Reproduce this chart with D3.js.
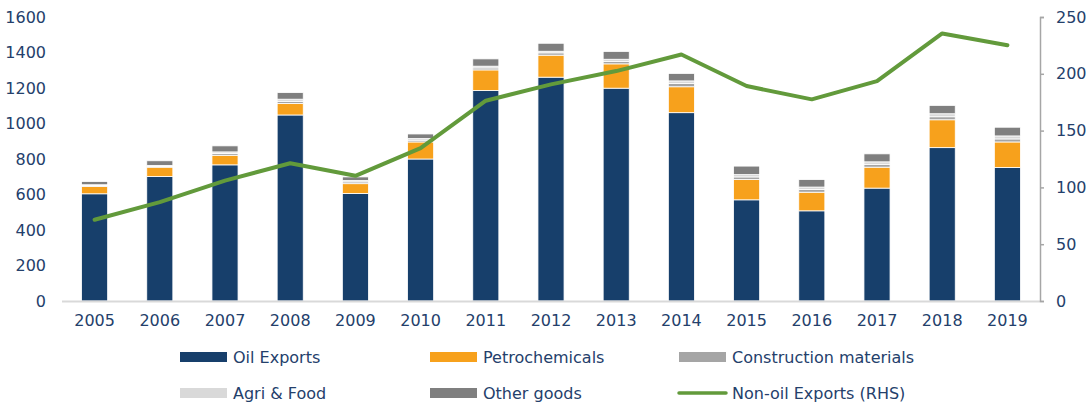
<!DOCTYPE html>
<html>
<head>
<meta charset="utf-8">
<script src="https://cdn.jsdelivr.net/npm/d3@7/dist/d3.min.js"></script>
<style>
  html, body { margin: 0; padding: 0; background: #fff; }
  svg text { font-family: "DejaVu Sans", sans-serif; fill: #24406b; }
</style>
</head>
<body>
<svg id="chart" width="1087" height="406"></svg>
<script>
const years = ["2005","2006","2007","2008","2009","2010","2011","2012","2013","2014","2015","2016","2017","2018","2019"];
const oilExports    = [604, 701, 767, 1048, 606, 800, 1186, 1261, 1199, 1061, 570, 508, 636, 864, 752];
const petrochem     = [41, 53, 54, 65, 55, 96, 116, 124, 137, 146, 114, 105, 118, 157, 144];
const construction  = [5, 5, 10, 12, 10, 10, 11, 13, 14, 18, 15, 15, 16, 17, 17];
const agriFood      = [5, 5, 9, 12, 8, 9, 10, 9, 12, 15, 13, 14, 14, 17, 17];
const otherGoods    = [18, 26, 34, 37, 20, 26, 41, 45, 44, 42, 48, 42, 45, 47, 49];
const nonOilRHS     = [71.5, 87, 106, 121.3, 110.2, 134.5, 176.3, 190.7, 202.4, 217, 189.2, 177.5, 193.6, 235.5, 225.2];
const leftTicks  = [0, 200, 400, 600, 800, 1000, 1200, 1400, 1600];
const rightTicks = [0, 50, 100, 150, 200, 250];
const seriesNames = ["Oil Exports", "Petrochemicals", "Construction materials", "Agri & Food", "Other goods"];
const lineName = "Non-oil Exports (RHS)";

const colors = {
  "Oil Exports": "#173f6b",
  "Petrochemicals": "#f7a11c",
  "Construction materials": "#a5a5a5",
  "Agri & Food": "#d9d9d9",
  "Other goods": "#7f7f7f"
};
const lineColor = "#629a3b";

const table = years.map((y, i) => ({
  year: y,
  "Oil Exports": oilExports[i],
  "Petrochemicals": petrochem[i],
  "Construction materials": construction[i],
  "Agri & Food": agriFood[i],
  "Other goods": otherGoods[i],
  rhs: nonOilRHS[i]
}));

const svg = d3.select("#chart");
const plotLeft = 62, plotRight = 1040, plotTop = 17, plotBottom = 301;

const x = d3.scaleBand().domain(years).range([plotLeft, plotRight]).paddingInner(0.6).paddingOuter(0.3);
const yL = d3.scaleLinear().domain([0, 1600]).range([plotBottom, plotTop]);
const yR = d3.scaleLinear().domain([0, 250]).range([plotBottom, plotTop]);

const stack = d3.stack().keys(seriesNames)(table);

// bars
svg.append("g").selectAll("g").data(stack).join("g")
  .attr("fill", d => colors[d.key])
  .selectAll("rect").data(d => d).join("rect")
  .attr("x", d => x(d.data.year))
  .attr("width", x.bandwidth())
  .attr("y", d => yL(d[1]))
  .attr("height", d => yL(d[0]) - yL(d[1]))
  .attr("stroke", "#fff")
  .attr("stroke-width", 0.8);

// bottom axis line
svg.append("line")
  .attr("x1", plotLeft).attr("x2", plotRight)
  .attr("y1", yL(0) + 0.5).attr("y2", yL(0) + 0.5)
  .attr("stroke", "#d9d9d9").attr("stroke-width", 2);

// left axis (labels only)
const leftAxis = d3.axisLeft(yL).tickValues(leftTicks).tickFormat(d3.format("d")).tickSize(0).tickPadding(0);
const gl = svg.append("g").attr("transform", "translate(46,0)").call(leftAxis);
gl.select(".domain").remove();
gl.selectAll("text").attr("font-size", 16).attr("fill", "#24406b").attr("font-family", "DejaVu Sans");

// right axis
const rightAxis = d3.axisRight(yR).tickValues(rightTicks).tickFormat(d3.format("d")).tickSize(4).tickPadding(12);
const gr = svg.append("g").attr("transform", `translate(${plotRight},0)`).call(rightAxis);
gr.select(".domain").attr("stroke", "#a6a6a6").attr("stroke-width", 1.5);
gr.selectAll(".tick line").attr("stroke", "#a6a6a6").attr("stroke-width", 1.5);
gr.selectAll("text").attr("font-size", 16).attr("fill", "#24406b").attr("font-family", "DejaVu Sans");

// x axis labels
const xAxis = d3.axisBottom(x).tickSize(0).tickPadding(14);
const gx = svg.append("g").attr("transform", `translate(0,${plotBottom})`).call(xAxis);
gx.select(".domain").remove();
gx.selectAll("text").attr("font-size", 16).attr("fill", "#24406b").attr("font-family", "DejaVu Sans");

// line
const line = d3.line()
  .x(d => x(d.year) + x.bandwidth() / 2)
  .y(d => yR(d.rhs));
svg.append("path").datum(table)
  .attr("d", line)
  .attr("fill", "none")
  .attr("stroke", lineColor)
  .attr("stroke-width", 4)
  .attr("stroke-linejoin", "round")
  .attr("stroke-linecap", "round");

// legend
const legendItems = [
  { name: "Oil Exports", type: "rect", col: 0, row: 0 },
  { name: "Petrochemicals", type: "rect", col: 1, row: 0 },
  { name: "Construction materials", type: "rect", col: 2, row: 0 },
  { name: "Agri & Food", type: "rect", col: 0, row: 1 },
  { name: "Other goods", type: "rect", col: 1, row: 1 },
  { name: lineName, type: "line", col: 2, row: 1 }
];
const colX = [180, 430, 679];
const rowY = [357, 393];
const lg = svg.append("g");
legendItems.forEach(it => {
  const gx0 = colX[it.col], gy = rowY[it.row];
  if (it.type === "rect") {
    lg.append("rect").attr("x", gx0).attr("y", gy - 5).attr("width", 47).attr("height", 10)
      .attr("fill", colors[it.name]);
  } else {
    lg.append("line").attr("x1", gx0).attr("x2", gx0 + 47).attr("y1", gy).attr("y2", gy)
      .attr("stroke", lineColor).attr("stroke-width", 3.5).attr("stroke-linecap", "round");
  }
  lg.append("text").attr("x", gx0 + 53).attr("y", gy).attr("dy", "0.35em")
    .attr("font-size", 16).text(it.name);
});
</script>
</body>
</html>
